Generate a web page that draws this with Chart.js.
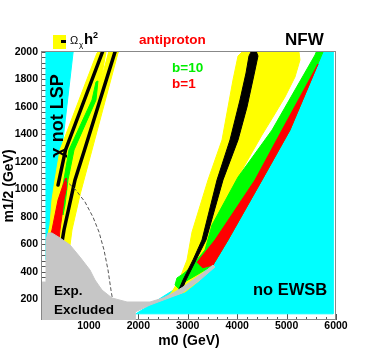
<!DOCTYPE html>
<html>
<head>
<meta charset="utf-8">
<script src="https://cdn.jsdelivr.net/npm/chart.js@4.4.1/dist/chart.umd.min.js"></script>
<style>
  body { margin: 0; background: #fff; }
</style>
</head>
<body>
<canvas id="chart" width="374" height="354"></canvas>
<script>
// ticks
const xTicks = [1000, 2000, 3000, 4000, 5000, 6000];
const yTicks = [200, 400, 600, 800, 1000, 1200, 1400, 1600, 1800, 2000];

// regions, [m0, m1/2] in GeV
const cyanNotLsp = [[130,2000],[680,2000],[455,1300],[250,670],[130,490]];
const cyanNoEwsb = [[5740,2000],[5940,2000],[5940,95],[1950,95],[3510,450],[3815,630],[4500,1070],[5070,1430]];
const yellowLeft = [[1163,1993],[1190,2000],[1345,2000],[1244,1796],[1400,2000],[1600,2000],[1588,1993],[1062,1287],[819,960],[657,705],[617,596],[374,596],[171,668],[212,741],[252,923],[313,1069],[414,1287],[799,1651]];
const greenLeft = [[1183,1789],[1143,1651],[698,1287],[576,1069],[515,887],[475,814],[435,887],[475,1032],[596,1287],[1062,1651],[1143,1782]];
const redLeft = [[536,1083],[536,996],[495,923],[455,814],[414,705],[394,632],[192,632],[252,705],[313,814],[374,923],[455,1010],[515,1069]];
const yellowRight = [[4098,2000],[4017,1971],[3915,1796],[3693,1360],[3410,1069],[3086,690],[2985,487],[2843,356],[2681,254],[2560,210],[2944,254],[3248,341],[3410,472],[3551,668],[4017,1090],[4502,1396],[4725,1527],[4968,1673],[5170,1818],[5271,1942],[5251,2000]];
const greenRight = [[5575,1978],[4705,1432],[4017,1090],[3490,741],[3349,559],[3045,428],[2904,385],[2782,356],[2742,305],[2843,268],[2904,320],[3248,392],[3511,450],[3815,632],[4503,1069],[5069,1432],[5737,2000],[5600,2000]];
const redRight = [[5636,1913],[5069,1432],[4503,1069],[3815,632],[3511,450],[3300,430],[3190,470],[3551,632],[4361,1069],[4907,1432]];
const blackRight = [[4239,1971],[4179,1847],[4057,1651],[3855,1360],[3592,1069],[3288,632],[3106,487],[2904,341],[2802,254],[2863,254],[2964,341],[3167,487],[3369,632],[3713,1069],[4017,1360],[4199,1600],[4340,1833],[4421,1971],[4390,2000],[4280,2000]];
const blackLeftA = [[1274,2000],[526,1287],[374,1032]];
const blackLeftB = [[1527,2000],[910,1287],[718,1069],[495,705],[455,618]];
const dashedLine = [[515,1069],[718,1003],[920,909],[1082,799],[1204,690],[1305,559],[1386,414],[1446,268],[1487,181]];
const grayExcluded = [[50,326],[131,326],[131,632],[171,683],[252,683],[414,647],[617,596],[819,508],[1021,414],[1123,341],[1264,268],[1467,210],[1770,181],[2236,181],[2499,210],[2701,246],[2904,290],[3187,363],[3389,414],[3511,450],[3551,436],[3248,341],[2883,246],[2236,159],[1932,108],[1932,50],[50,50]];

const FONT = "'Liberation Sans', Arial, Helvetica, sans-serif";
Chart.defaults.font.family = FONT;

const pts = (arr) => arr.map(([x, y]) => ({ x, y }));

// polygone rellenado
const area = (arr, color) => ({
  data: pts(arr.concat([arr[0]])),
  showLine: true,
  fill: "shape",
  backgroundColor: color,
  borderColor: color,
  borderWidth: 1,
  pointRadius: 0,
  tension: 0,
  clip: 0,
});

const line = (arr, color, width, dash) => ({
  data: pts(arr),
  showLine: true,
  fill: false,
  borderColor: color,
  borderWidth: width,
  borderDash: dash || [],
  borderCapStyle: "round",
  pointRadius: 0,
  tension: 0,
  clip: 0,
});

// de abajo hacia arriba
const layers = [
  area(cyanNotLsp, "#00ffff"),
  area(cyanNoEwsb, "#00ffff"),
  area(yellowLeft, "#ffff00"),
  area(greenLeft, "#00ff00"),
  area(redLeft, "#ff0000"),
  area(yellowRight, "#ffff00"),
  area(greenRight, "#00ff00"),
  area(redRight, "#ff0000"),
  area(blackRight, "#000000"),
  line(blackLeftA, "#000000", 3.5),
  line(blackLeftB, "#000000", 3.5),
  line(dashedLine, "#555555", 1, [3, 3]),
  area(grayExcluded, "#c6c6c6"),
];
layers.forEach((d, i) => (d.order = layers.length - i));

// marco y ticks hacia dentro (debajo de las regiones)
const frameTicks = {
  id: "frameTicks",
  beforeDatasetsDraw(chart) {
    const { ctx, chartArea: a, scales } = chart;
    const x = scales.x, y = scales.y;
    ctx.save();
    ctx.strokeStyle = "#555";
    ctx.lineWidth = 1;
    ctx.beginPath();
    for (let v = 80; v <= 2000; v += 40) {
      const py = Math.round(y.getPixelForValue(v)) + 0.5;
      const len = v % 200 === 0 ? 7 : 4;
      ctx.moveTo(a.left, py);
      ctx.lineTo(a.left + len, py);
    }
    for (let v = 200; v <= 6000; v += 200) {
      const px = Math.round(x.getPixelForValue(v)) + 0.5;
      const len = v % 1000 === 0 ? 6 : 3;
      ctx.moveTo(px, a.bottom);
      ctx.lineTo(px, a.bottom - len);
    }
    ctx.stroke();
    ctx.strokeStyle = "#888";
    ctx.strokeRect(a.left - 0.5, a.top - 0.5, a.right - a.left, a.bottom - a.top);
    ctx.restore();
  },
};

// textos del gráfico
const labels = {
  id: "labels",
  afterDraw(chart) {
    const ctx = chart.ctx;
    ctx.save();
    ctx.textBaseline = "alphabetic";
    ctx.textAlign = "left";

    // leyenda Omega h^2
    ctx.fillStyle = "#ffff00";
    ctx.fillRect(53, 35, 13, 14);
    ctx.strokeStyle = "#000";
    ctx.lineWidth = 3;
    ctx.beginPath();
    ctx.moveTo(61, 41.5);
    ctx.lineTo(66, 41.5);
    ctx.stroke();
    ctx.fillStyle = "#000";
    ctx.font = "11px " + FONT;
    ctx.fillText("Ω", 70, 43.5);
    ctx.font = "8px " + FONT;
    ctx.fillText("χ", 79, 47);
    ctx.font = "bold 15px " + FONT;
    ctx.fillText("h", 84, 43.5);
    ctx.font = "bold 9px " + FONT;
    ctx.fillText("2", 93, 38);

    ctx.fillStyle = "#ff0000";
    ctx.font = "bold 13.5px " + FONT;
    ctx.fillText("antiproton", 139, 43.5);

    ctx.fillStyle = "#000";
    ctx.font = "bold 17px " + FONT;
    ctx.fillText("NFW", 285, 44.5);

    ctx.font = "bold 13.5px " + FONT;
    ctx.fillStyle = "#00ee00";
    ctx.fillText("b=10", 172, 71.5);
    ctx.fillStyle = "#ff0000";
    ctx.fillText("b=1", 172, 88);

    ctx.fillStyle = "#000";
    ctx.fillText("Exp.", 54, 295);
    ctx.fillText("Excluded", 54, 314);
    ctx.font = "bold 16.5px " + FONT;
    ctx.fillText("no EWSB", 253, 295);

    ctx.save();
    ctx.translate(63, 116);
    ctx.rotate(-Math.PI / 2);
    ctx.textAlign = "center";
    ctx.font = "bold 18px " + FONT;
    ctx.fillText("χ not LSP", 0, 0);
    ctx.restore();

    ctx.restore();
  },
};

const tickFont = { family: FONT, size: 10.5, weight: "bold" };
const titleFont = { family: FONT, size: 14, weight: "bold" };
const plain = (v) => String(v);

new Chart(document.getElementById("chart"), {
  type: "scatter",
  data: { datasets: layers },
  options: {
    responsive: false,
    animation: false,
    devicePixelRatio: 1,
    events: [],
    layout: { padding: { top: 52, right: 38, left: 0, bottom: 0 } },
    plugins: { legend: { display: false }, tooltip: { enabled: false } },
    scales: {
      x: {
        type: "linear",
        min: 50,
        max: 6000,
        afterBuildTicks: (s) => { s.ticks = xTicks.map((v) => ({ value: v })); },
        afterFit: (s) => { s.height = 34; },
        grid: { display: false, drawTicks: false },
        border: { display: false },
        ticks: { font: tickFont, color: "#000", padding: 0, maxRotation: 0, autoSkip: false, callback: plain },
        title: { display: true, text: "m0 (GeV)", font: titleFont, color: "#000", padding: { top: 0, bottom: 4 } },
      },
      y: {
        type: "linear",
        min: 50,
        max: 2000,
        afterBuildTicks: (s) => { s.ticks = yTicks.map((v) => ({ value: v })); },
        afterFit: (s) => { s.width = 42; },
        grid: { display: false, drawTicks: false },
        border: { display: false },
        ticks: { font: tickFont, color: "#000", padding: 4, autoSkip: false, callback: plain },
        title: { display: true, text: "m1/2 (GeV)", font: titleFont, color: "#000", padding: { top: 1, bottom: 0 } },
      },
    },
  },
  plugins: [frameTicks, labels],
});
</script>
</body>
</html>
